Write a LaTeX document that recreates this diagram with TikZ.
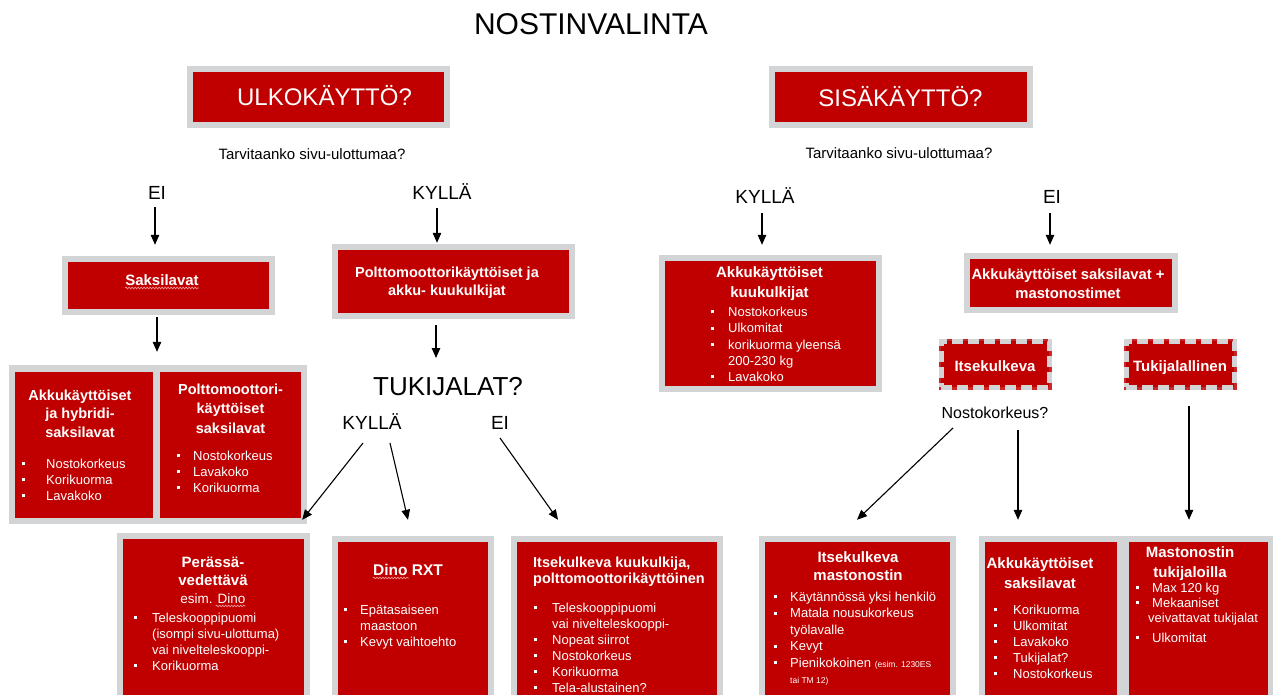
\documentclass[tikz,border=0pt]{standalone}
\usepackage{fontspec}
\setmainfont{Liberation Sans}
\usetikzlibrary{arrows.meta,decorations.pathmorphing}
\definecolor{ured}{RGB}{192,0,0}
\definecolor{bgray}{RGB}{210,212,214}
\definecolor{wavyc}{RGB}{240,150,150}
\newcommand\bsq{\rule[3.2pt]{3pt}{3pt}}
\newcommand\myctab[1]{\begin{tabular}[t]{@{}c@{}}#1\end{tabular}}
\newcommand\myltab[1]{\begin{tabular}[t]{@{}l@{}}#1\end{tabular}}
\newcommand\mybtab[2]{\begin{tabular}[t]{@{}p{#1}@{}l@{}}#2\end{tabular}}
\begin{document}
\begin{tikzpicture}[x=1pt,y=-1pt,
  lbl/.style={inner sep=0pt, anchor=base},
  rbox/.style={fill=ured, inner sep=0pt, preaction={draw=bgray, line width=12pt}},
  rfill/.style={fill=ured, inner sep=0pt},
  gbox/.style={fill=bgray, inner sep=0pt},
  dbox/.style={fill=ured, inner sep=0pt, draw=bgray, line width=5pt, dash pattern=on 11pt off 5pt,
    preaction={draw=ured!85!white, line width=5pt, solid}},
  wt/.style={text=white, inner sep=0pt},
  hd/.style={wt, anchor=base, font=\bfseries\fontsize{15}{19}\selectfont},
  bl/.style={wt, anchor=base west, font=\fontsize{13}{16}\selectfont},
  arr/.style={-{Triangle[length=10pt,width=8.5pt]}, line width=1.1pt, black},
  wv/.style={wavyc, line width=0.7pt, decorate, decoration={snake, amplitude=0.8pt, segment length=3pt}}
]
\useasboundingbox (0,0) rectangle (1273,695);
\clip (0,0) rectangle (1273,695);

% title
\node[lbl, font=\fontsize{30}{30}\selectfont] (title) at (591,35) {NOSTINVALINTA};

% ---------- left: outdoor ----------
\node[rbox, minimum width=251, minimum height=50] (ulko) at (318.5,97) {};
\node[lbl, text=white, font=\fontsize{24}{24}\selectfont] (ulkot) at (324.5,106) {ULKOKÄYTTÖ?};
\node[lbl, font=\fontsize{15}{15}\selectfont] (q1) at (312,160) {Tarvitaanko sivu-ulottumaa?};
\node[lbl, font=\fontsize{19}{19}\selectfont] (ei1) at (157,199) {EI};
\node[lbl, font=\fontsize{19}{19}\selectfont] (kyl1) at (442,199) {KYLLÄ};

\node[rbox, minimum width=201, minimum height=47] (saks) at (168.5,285.5) {};
\node[lbl, text=white, font=\bfseries\fontsize{15}{15}\selectfont] (sakst) at (162,285) {Saksilavat};

\node[rbox, minimum width=231, minimum height=63] (polt) at (453.5,281.5) {};
\node[hd, font=\bfseries\fontsize{14.5}{18}\selectfont] (poltt) at (447,277) {\myctab{Polttomoottorikäyttöiset ja\\akku- kuukulkijat}};

\node[lbl, font=\fontsize{26}{26}\selectfont] (tuki) at (448,395) {TUKIJALAT?};
\node[lbl, font=\fontsize{19}{19}\selectfont] (kyl3) at (372,429) {KYLLÄ};
\node[lbl, font=\fontsize{19}{19}\selectfont] (ei3) at (500,429) {EI};

% left group
\node[gbox, minimum width=298, minimum height=159] (lgrp) at (158,444.5) {};
\node[rfill, minimum width=138, minimum height=146] (l1) at (84,445) {};
\node[rfill, minimum width=141, minimum height=146] (l2) at (230.5,445) {};
\node[hd, font=\bfseries\fontsize{14.5}{18.5}\selectfont] (l1h) at (80,400) {\myctab{Akkukäyttöiset\\ja hybridi-\\saksilavat}};
\node[bl] (l1b) at (21.6,468.5) {\mybtab{24.4pt}{\bsq&Nostokorkeus\\\bsq&Korikuorma\\\bsq&Lavakoko}};
\node[hd, font=\bfseries\fontsize{14.5}{19.5}\selectfont] (l2h) at (230.5,394) {\myctab{Polttomoottori-\\käyttöiset\\saksilavat}};
\node[bl] (l2b) at (176.6,460.5) {\mybtab{16.4pt}{\bsq&Nostokorkeus\\\bsq&Lavakoko\\\bsq&Korikuorma}};

% bottom left boxes
\node[rbox, minimum width=181, minimum height=161] (b1) at (213.5,619.5) {};
\node[hd, font=\bfseries\fontsize{15}{18}\selectfont] (b1h) at (213,567) {\myctab{Perässä-\\vedettävä}};
\node[lbl, text=white, font=\fontsize{13.5}{13.5}\selectfont] (b1e) at (213,603) {esim. Dino};
\node[bl] (b1b) at (133.6,622.5) {\mybtab{18.4pt}{\bsq&Teleskooppipuomi\\&(isompi sivu-ulottuma)\\&vai nivelteleskooppi-\\\bsq&Korikuorma}};

\node[rbox, minimum width=150, minimum height=158] (b2) at (413,621) {};
\node[hd, font=\bfseries\fontsize{15.5}{15.5}\selectfont] (b2h) at (408,575) {Dino RXT};
\node[bl] (b2b) at (343.6,614.5) {\mybtab{16.4pt}{\bsq&Epätasaiseen\\&maastoon\\\bsq&Kevyt vaihtoehto}};

\node[rbox, minimum width=200, minimum height=158] (b3) at (617,621) {};
\node[wt, anchor=base west, font=\bfseries\fontsize{14.5}{16}\selectfont] (b3h) at (533,567) {\myltab{Itsekulkeva kuukulkija,\\polttomoottorikäyttöinen}};
\node[bl] (b3b) at (533.6,612.5) {\mybtab{18.4pt}{\bsq&Teleskooppipuomi\\&vai nivelteleskooppi-\\\bsq&Nopeat siirrot\\\bsq&Nostokorkeus\\\bsq&Korikuorma\\\bsq&Tela-alustainen?}};

% ---------- right: indoor ----------
\node[rbox, minimum width=252, minimum height=50] (sisa) at (901,97) {};
\node[lbl, text=white, font=\fontsize{24}{24}\selectfont] (sisat) at (900.5,106.5) {SISÄKÄYTTÖ?};
\node[lbl, font=\fontsize{15}{15}\selectfont] (q2) at (899,159) {Tarvitaanko sivu-ulottumaa?};
\node[lbl, font=\fontsize{19}{19}\selectfont] (kyl2) at (765,204) {KYLLÄ};
\node[lbl, font=\fontsize{19}{19}\selectfont] (ei2) at (1052,204) {EI};

\node[rbox, minimum width=211, minimum height=125] (akkuk) at (770.5,323.5) {};
\node[hd, font=\bfseries\fontsize{15}{20}\selectfont] (akkukh) at (769.5,277) {\myctab{Akkukäyttöiset\\kuukulkijat}};
\node[bl, font=\fontsize{13}{16.25}\selectfont] (akkukb) at (710.6,316.5) {\mybtab{17.4pt}{\bsq&Nostokorkeus\\\bsq&Ulkomitat\\\bsq&korikuorma yleensä\\&200-230 kg\\\bsq&Lavakoko}};

\node[rbox, minimum width=202, minimum height=48] (akks) at (1071,283) {};
\node[hd, font=\bfseries\fontsize{14.8}{19}\selectfont] (akksh) at (1068,279) {\myctab{Akkukäyttöiset saksilavat +\\mastonostimet}};

\node[dbox, minimum width=108, minimum height=46] (itsek) at (995,364) {};
\node[hd] (itsekt) at (995,371) {Itsekulkeva};
\node[dbox, minimum width=108, minimum height=46] (tukij) at (1180,364) {};
\node[hd] (tukijt) at (1180,371) {Tukijalallinen};
\node[lbl, font=\fontsize{16}{16}\selectfont] (nostok) at (995,418) {Nostokorkeus?};

\node[rbox, minimum width=185, minimum height=158] (b4) at (857.5,621) {};
\node[hd, font=\bfseries\fontsize{15}{18}\selectfont] (b4h) at (858,562) {\myctab{Itsekulkeva\\mastonostin}};
\node[bl, font=\fontsize{13}{16.4}\selectfont] (b4b) at (773.6,601.5) {\mybtab{16.4pt}{\bsq&Käytännössä yksi henkilö\\\bsq&Matala nousukorkeus\\&työlavalle\\\bsq&Kevyt\\\bsq&Pienikokoinen {\fontsize{8.5}{8.5}\selectfont (esim. 1230ES}\\&{\fontsize{8.5}{8.5}\selectfont tai TM 12)}}};

\node[gbox, minimum width=301, minimum height=164] (rgrp) at (1129.5,618) {};
\node[rfill, minimum width=132, minimum height=158] (ga) at (1051,621) {};
\node[rfill, minimum width=139, minimum height=158] (gb) at (1198.5,621) {};
\node[hd, font=\bfseries\fontsize{15}{20}\selectfont] (gah) at (1040,568) {\myctab{Akkukäyttöiset\\saksilavat}};
\node[bl] (gab) at (993.6,614.5) {\mybtab{19.4pt}{\bsq&Korikuorma\\\bsq&Ulkomitat\\\bsq&Lavakoko\\\bsq&Tukijalat?\\\bsq&Nostokorkeus}};
\node[hd, font=\bfseries\fontsize{15}{20}\selectfont] (gbh) at (1190,557) {\myctab{Mastonostin\\tukijaloilla}};
\node[bl, font=\fontsize{13}{15}\selectfont] (gbb) at (1135.6,592.5) {\mybtab{16.4pt}{\bsq&Max 120 kg\\[-0.5pt]\bsq&Mekaaniset\\\multicolumn{2}{@{}l@{}}{\hspace*{12.4pt}veivattavat tukijalat}\\[5pt]\bsq&Ulkomitat}};

% spell-check wavy underlines
\draw[wv] ([shift={(0,3)}]sakst.base west) -- ([shift={(0,3)}]sakst.base east);
\draw[wv] ([shift={(-30,3)}]b1e.base east) -- ([shift={(0,3)}]b1e.base east);
\draw[wv] ([shift={(0,3)}]b2h.base west) -- ([shift={(36,3)}]b2h.base west);

% ---------- arrows ----------
\draw[arr] ([shift={(-2,8)}]ei1.base) -- ([shift={(-13.5,-17)}]saks.north);
\draw[arr] ([shift={(-5,9)}]kyl1.base) -- ([shift={(-16.5,-7)}]polt.north);
\draw[arr] ([shift={(-11.5,8)}]saks.south) -- ([shift={(-1,-13)}]lgrp.north);
\draw[arr] ([shift={(-17.5,12)}]polt.south) -- ([shift={(-12,-37)}]tuki.base);
\draw[arr] ([shift={(-9,14)}]kyl3.base) -- ([shift={(-2,-19)}]b1.north east);
\draw[arr] ([shift={(18,14)}]kyl3.base) -- ([shift={(-5,-22)}]b2.north);
\draw[arr] ([shift={(0,9)}]ei3.base) -- ([shift={(-59,-22)}]b3.north);
\draw[arr] ([shift={(-3,9)}]kyl2.base) -- ([shift={(-8.5,-16)}]akkuk.north);
\draw[arr] ([shift={(-2,9)}]ei2.base) -- ([shift={(-21,-14)}]akks.north);
\draw[arr] ([shift={(-42,10)}]nostok.base) -- ([shift={(-0.5,-22)}]b4.north);
\draw[arr] ([shift={(23,12)}]nostok.base) -- ([shift={(-33,-22)}]ga.north);
\draw[arr] ([shift={(9,16)}]tukij.south) -- ([shift={(-9.5,-22)}]gb.north);
\end{tikzpicture}
\end{document}
